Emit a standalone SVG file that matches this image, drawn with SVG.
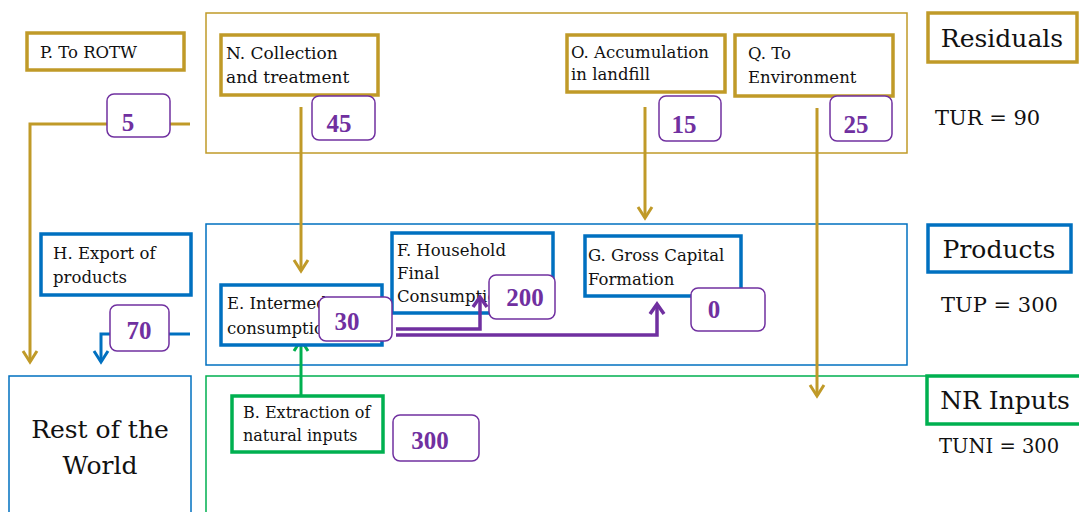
<svg xmlns="http://www.w3.org/2000/svg" width="1079" height="512" viewBox="0 0 1079 512">
<style>
text{font-family:"DejaVu Serif","Liberation Serif",serif;fill:#111}
.lbl{font-size:16.5px}
.big{font-size:25px}
.tot{font-size:21px}
.num{font-family:"Liberation Serif",serif;font-size:25px;font-weight:bold;fill:#7030A0;text-anchor:middle}
.gold{fill:none;stroke:#C09A28}
.blue{fill:none;stroke:#0070C0}
.green{fill:none;stroke:#00B050}
.thick{stroke-width:3.5;fill:#fff}
.thin{stroke-width:1.5}
.nbox{fill:#fff;stroke:#7030A0;stroke-width:1.5}
.cg{fill:none;stroke:#C09A28;stroke-width:3}
.cb{fill:none;stroke:#0070C0;stroke-width:3}
.cgr{fill:none;stroke:#00B050;stroke-width:3}
.cp{fill:none;stroke:#7030A0;stroke-width:3.5}
</style>
<rect width="1079" height="512" fill="#fff"/>
<g id="residuals-area"><rect class="gold thin" x="206" y="13" width="701" height="140"/></g>
<g id="products-area"><rect class="blue thin" x="206" y="224" width="701" height="141"/></g>
<g id="nr-area"><rect class="green thin" x="206" y="376" width="880" height="150"/></g>
<g id="rotw"><rect class="blue thin" x="9" y="376" width="182" height="150"/>
<text class="big" x="100" y="438" text-anchor="middle">Rest of the</text>
<text class="big" x="100" y="474" text-anchor="middle">World</text></g>

<g id="connectors">
<polyline class="cg" points="190,124 170,124"/>
<polyline class="cg" points="107,124 30,124 30,362"/>
<polyline class="cg" points="23,351 30,362 37,351"/>
<polyline class="cg" points="301,107 301,271"/>
<polyline class="cg" points="294,260 301,271 308,260"/>
<polyline class="cg" points="645,107 645,218"/>
<polyline class="cg" points="638,207 645,218 652,207"/>
<polyline class="cg" points="817,108 817,396"/>
<polyline class="cg" points="810,385 817,396 824,385"/>
<polyline class="cb" points="190,334 169,334"/>
<polyline class="cb" points="110,334 101,334 101,362"/>
<polyline class="cb" points="94,351 101,362 108,351"/>
<polyline class="cgr" points="301,395 301,340"/>
<polyline class="cgr" points="294,351 301,340 308,351"/>
</g>

<g id="nodeP"><rect class="gold thick" x="27" y="33" width="157" height="37"/><text class="lbl" x="40" y="58">P. To ROTW</text></g>
<g id="nodeN"><rect class="gold thick" x="221" y="35" width="157" height="60"/><text class="lbl" x="226" y="59" style="font-size:17px">N. Collection</text><text class="lbl" x="226" y="83" style="font-size:17px">and treatment</text></g>
<g id="nodeO"><rect class="gold thick" x="567" y="35" width="158" height="57"/><text class="lbl" x="571" y="58">O. Accumulation</text><text class="lbl" x="571" y="80">in landfill</text></g>
<g id="nodeQ"><rect class="gold thick" x="735" y="35" width="158" height="61"/><text class="lbl" x="748" y="59">Q. To</text><text class="lbl" x="748" y="83">Environment</text></g>
<g id="residuals"><rect class="gold thick" x="928" y="13" width="149" height="49"/><text class="big" x="1002" y="47" text-anchor="middle">Residuals</text></g>
<text class="tot" x="935" y="125">TUR = 90</text>

<g id="nodeH"><rect class="blue thick" x="41" y="234" width="150" height="61"/><text class="lbl" x="53" y="259">H. Export of</text><text class="lbl" x="53" y="283">products</text></g>
<g id="nodeE"><rect class="blue thick" x="221" y="285" width="161" height="60"/><text class="lbl" x="227" y="309">E. Intermediate</text><text class="lbl" x="227" y="334">consumption</text></g>
<g id="nodeF"><rect class="blue thick" x="392" y="233" width="161" height="80"/><text class="lbl" x="397" y="256">F. Household</text><text class="lbl" x="397" y="279">Final</text><text class="lbl" x="397" y="302">Consumption</text></g>
<g id="nodeG"><rect class="blue thick" x="585" y="236" width="156" height="60"/><text class="lbl" x="588" y="261">G. Gross Capital</text><text class="lbl" x="588" y="285">Formation</text></g>
<g id="products"><rect class="blue thick" x="928" y="225" width="143" height="47"/><text class="big" x="999" y="258" text-anchor="middle">Products</text></g>
<text class="tot" x="941" y="312">TUP = 300</text>

<g id="nodeB"><rect class="green thick" x="232" y="396" width="151" height="56"/><text class="lbl" x="243" y="418" style="font-size:16px">B. Extraction of</text><text class="lbl" x="243" y="441" style="font-size:16px">natural inputs</text></g>
<g id="nrinputs"><rect class="green thick" x="927" y="376" width="160" height="48"/><text class="big" x="1005" y="409" text-anchor="middle">NR Inputs</text></g>
<text class="tot" x="939" y="453" style="font-size:19.5px">TUNI = 300</text>

<g id="purple-connectors">
<polyline class="cp" points="396,329 480,329 480,297"/>
<polyline class="cp" points="473,307 480,297 487,307"/>
<polyline class="cp" points="396,335 657,335 657,304"/>
<polyline class="cp" points="650,314 657,304 664,314"/>
</g>

<g id="v5"><rect class="nbox" x="107" y="94" width="63" height="43" rx="7"/><text class="num" x="128" y="131">5</text></g>
<g id="v45"><rect class="nbox" x="312" y="96" width="63" height="44" rx="7"/><text class="num" x="339" y="132">45</text></g>
<g id="v15"><rect class="nbox" x="659" y="96" width="62" height="45" rx="7"/><text class="num" x="684" y="133">15</text></g>
<g id="v25"><rect class="nbox" x="830" y="96" width="62" height="45" rx="7"/><text class="num" x="856" y="133">25</text></g>
<g id="v70"><rect class="nbox" x="110" y="305" width="59" height="46" rx="7"/><text class="num" x="139" y="339">70</text></g>
<g id="v30"><rect class="nbox" x="319" y="297" width="73" height="44" rx="7"/><text class="num" x="347" y="330">30</text></g>
<g id="v200"><rect class="nbox" x="489" y="275" width="66" height="44" rx="7"/><text class="num" x="525" y="306">200</text></g>
<g id="v0"><rect class="nbox" x="691" y="288" width="74" height="43" rx="7"/><text class="num" x="714" y="318">0</text></g>
<g id="v300"><rect class="nbox" x="393" y="415" width="86" height="46" rx="7"/><text class="num" x="430" y="449">300</text></g>
</svg>
